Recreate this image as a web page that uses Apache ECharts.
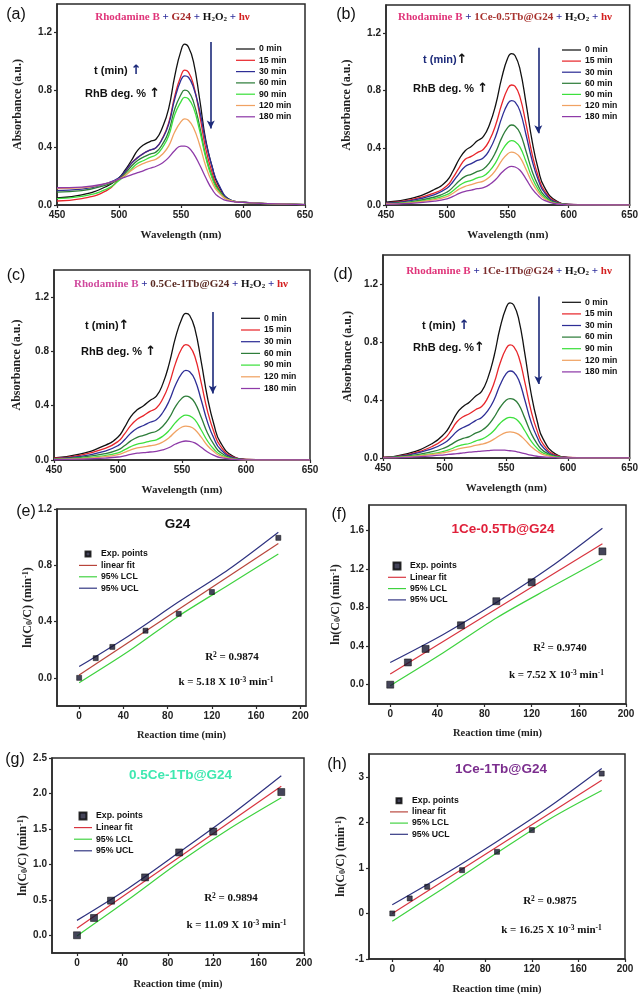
<!DOCTYPE html>
<html><head><meta charset="utf-8">
<script src="https://cdn.jsdelivr.net/npm/echarts@6/dist/echarts.min.js"></script>
<style>html,body{margin:0;padding:0;background:#fff}#c{width:641px;height:1000px}</style>
</head><body><div id="c"></div>
<script>
// ---------- data ----------
const wavelengths = [450,470,490,500,505,510,515,520,525,530,535,540,545,550,553,556,560,565,570,575,580,590,600,620,650];
const timeLabels = ['0 min','15 min','30 min','60 min','90 min','120 min','180 min'];
const curveColors = ['#111111','#e8262b','#2e2e96','#2e7d3a','#3de03d','#f0a262','#8e3aa8'];

const absA = [
 [0.05,0.07,0.13,0.19,0.244,0.31,0.38,0.42,0.442,0.46,0.54,0.67,0.90,1.075,1.12,1.10,1.00,0.74,0.45,0.27,0.14,0.035,0.02,0.01,0.003],
 [0.028,0.045,0.10,0.18,0.23,0.29,0.33,0.36,0.382,0.40,0.465,0.57,0.76,0.90,0.94,0.925,0.84,0.63,0.39,0.23,0.12,0.03,0.018,0.01,0.003],
 [0.10,0.11,0.15,0.19,0.235,0.29,0.33,0.36,0.382,0.40,0.461,0.56,0.74,0.87,0.90,0.89,0.82,0.66,0.44,0.27,0.15,0.035,0.02,0.01,0.003],
 [0.09,0.10,0.14,0.18,0.22,0.27,0.31,0.335,0.354,0.37,0.423,0.51,0.67,0.77,0.80,0.79,0.72,0.55,0.34,0.20,0.11,0.03,0.018,0.01,0.003],
 [0.045,0.06,0.11,0.17,0.206,0.25,0.29,0.31,0.332,0.35,0.40,0.48,0.63,0.72,0.75,0.74,0.68,0.52,0.33,0.19,0.10,0.03,0.018,0.01,0.003],
 [0.115,0.12,0.15,0.18,0.207,0.24,0.27,0.29,0.306,0.32,0.354,0.41,0.51,0.58,0.60,0.59,0.54,0.42,0.27,0.16,0.09,0.03,0.018,0.01,0.003],
 [0.12,0.125,0.15,0.18,0.194,0.21,0.225,0.24,0.256,0.27,0.293,0.33,0.38,0.41,0.41,0.40,0.36,0.28,0.19,0.11,0.06,0.025,0.018,0.01,0.003]
];
const absB = [
 [0.02,0.045,0.11,0.17,0.238,0.32,0.38,0.41,0.449,0.48,0.564,0.70,0.89,1.03,1.06,1.045,0.95,0.71,0.445,0.25,0.125,0.027,0.005,0.001,0],
 [0.015,0.036,0.085,0.135,0.191,0.26,0.32,0.34,0.367,0.39,0.455,0.56,0.705,0.815,0.84,0.83,0.755,0.565,0.355,0.20,0.10,0.022,0.004,0.001,0],
 [0.013,0.03,0.073,0.117,0.163,0.22,0.27,0.29,0.312,0.33,0.387,0.48,0.61,0.71,0.73,0.72,0.657,0.49,0.31,0.175,0.088,0.018,0.004,0.001,0],
 [0.01,0.022,0.056,0.09,0.125,0.168,0.2,0.215,0.235,0.252,0.297,0.37,0.47,0.543,0.56,0.552,0.504,0.375,0.235,0.134,0.067,0.014,0.003,0.001,0],
 [0.008,0.018,0.045,0.072,0.10,0.135,0.16,0.173,0.19,0.203,0.239,0.297,0.378,0.437,0.45,0.443,0.405,0.302,0.189,0.108,0.054,0.011,0.002,0.001,0],
 [0.007,0.015,0.037,0.059,0.082,0.111,0.131,0.142,0.156,0.167,0.196,0.244,0.311,0.359,0.37,0.364,0.333,0.248,0.155,0.089,0.044,0.009,0.002,0.001,0],
 [0.005,0.011,0.027,0.043,0.06,0.081,0.096,0.104,0.114,0.122,0.143,0.178,0.227,0.262,0.27,0.266,0.243,0.181,0.113,0.065,0.032,0.007,0.001,0,0]
];
const absC = [
 [0.016,0.043,0.108,0.17,0.238,0.32,0.37,0.40,0.439,0.47,0.561,0.71,0.905,1.045,1.08,1.065,0.97,0.725,0.455,0.26,0.13,0.027,0.005,0.001,0],
 [0.013,0.034,0.085,0.136,0.19,0.255,0.30,0.327,0.358,0.383,0.451,0.561,0.714,0.825,0.85,0.837,0.765,0.57,0.357,0.204,0.102,0.021,0.004,0.001,0],
 [0.01,0.026,0.066,0.106,0.147,0.198,0.234,0.254,0.278,0.297,0.35,0.436,0.554,0.64,0.66,0.65,0.594,0.442,0.277,0.158,0.079,0.017,0.003,0.001,0],
 [0.007,0.019,0.047,0.075,0.105,0.141,0.167,0.181,0.198,0.212,0.249,0.31,0.395,0.456,0.47,0.463,0.423,0.315,0.197,0.113,0.056,0.012,0.002,0,0],
 [0.005,0.013,0.033,0.053,0.074,0.099,0.117,0.127,0.139,0.149,0.175,0.218,0.277,0.32,0.33,0.325,0.297,0.221,0.139,0.079,0.04,0.008,0.002,0,0],
 [0.004,0.01,0.025,0.04,0.056,0.075,0.089,0.096,0.105,0.113,0.133,0.165,0.21,0.243,0.25,0.246,0.225,0.168,0.105,0.06,0.03,0.006,0.001,0,0],
 [0.002,0.006,0.014,0.022,0.031,0.042,0.05,0.054,0.059,0.063,0.074,0.092,0.118,0.136,0.14,0.138,0.126,0.094,0.059,0.034,0.017,0.004,0.001,0,0]
];
const absD = [
 [0.005,0.03,0.10,0.17,0.233,0.31,0.355,0.385,0.426,0.46,0.551,0.70,0.90,1.04,1.07,1.055,0.96,0.72,0.45,0.255,0.128,0.027,0.005,0.001,0],
 [0.004,0.024,0.08,0.135,0.187,0.25,0.285,0.305,0.333,0.355,0.416,0.515,0.655,0.757,0.78,0.768,0.70,0.523,0.328,0.187,0.094,0.02,0.004,0.001,0],
 [0.003,0.02,0.065,0.105,0.141,0.185,0.21,0.23,0.258,0.28,0.326,0.40,0.505,0.583,0.60,0.591,0.54,0.40,0.25,0.143,0.072,0.015,0.003,0,0],
 [0.002,0.014,0.044,0.07,0.092,0.118,0.135,0.148,0.171,0.19,0.224,0.28,0.35,0.40,0.41,0.404,0.37,0.275,0.172,0.098,0.049,0.01,0.002,0,0],
 [0.002,0.01,0.03,0.048,0.062,0.08,0.092,0.10,0.117,0.13,0.153,0.19,0.24,0.273,0.28,0.276,0.252,0.188,0.118,0.067,0.034,0.007,0.001,0,0],
 [0.002,0.008,0.025,0.038,0.048,0.06,0.07,0.077,0.087,0.095,0.108,0.13,0.157,0.176,0.18,0.177,0.163,0.125,0.08,0.046,0.024,0.005,0.001,0,0],
 [0.001,0.005,0.015,0.022,0.026,0.03,0.035,0.04,0.044,0.048,0.051,0.055,0.055,0.053,0.05,0.047,0.04,0.03,0.02,0.012,0.007,0.002,0,0,0]
];
// down arrows: [wavelength, from, to]
const arrowA = [574,1.136,0.533];
const arrowB = [575,1.10,0.503];
const arrowC = [574,1.09,0.49];
const arrowD = [576,1.113,0.51];

const reactionTimes = [0,15,30,60,90,120,180];
const lnE = [0.0,0.14,0.22,0.335,0.455,0.61,0.995];
const lnF = [0.0,0.23,0.37,0.615,0.864,1.06,1.38];
const lnG = [0.0,0.244,0.488,0.816,1.168,1.463,2.02];
const lnH = [0.0,0.33,0.585,0.95,1.353,1.83,3.07];
const fitTimes = [0,180];
const fitE = [0.02,0.955];
const fitF = [0.11,1.46];
const fitG = [0.10,2.10];
const fitH = [0.0,2.925];
const bandTimes = [0,45,90,135,180];
const uclE = [0.08,0.30,0.54,0.77,1.035];
const lclE = [-0.035,0.19,0.44,0.66,0.88];
const uclF = [0.23,0.52,0.85,1.21,1.62];
const lclF = [-0.01,0.33,0.69,1.00,1.30];
const uclG = [0.21,0.66,1.17,1.69,2.25];
const lclG = [-0.01,0.50,1.03,1.51,1.94];
const uclH = [0.19,0.86,1.58,2.34,3.18];
const lclH = [-0.17,0.57,1.33,2.07,2.70];
const rSquared = ['0.9874','0.9740','0.9894','0.9875'];
const rateK = ['5.18','7.52','11.09','16.25'];
const fitNames = ['linear fit','Linear fit','Linear fit','linear fit'];

const specXTicks = [450,500,550,600,650];
const specYTicks = [0,0.4,0.8,1.2];
const timeTicks = [0,40,80,120,160,200];
const yTicksE = [0,0.4,0.8,1.2];
const yTicksF = [0,0.4,0.8,1.2,1.6];
const yTicksG = [0,0.5,1.0,1.5,2.0,2.5];
const yTicksH = [-1,0,1,2,3];

// ---------- layout ----------
const grids = [
 {left:57, top:4, width:248, height:201},
 {left:386, top:5, width:244, height:200},
 {left:54, top:270, width:256, height:190},
 {left:383, top:255, width:247, height:203},
 {left:57, top:509, width:249, height:197},
 {left:369, top:505, width:257, height:199},
 {left:52, top:758, width:252, height:195},
 {left:369, top:754, width:256, height:205}
].map(g => Object.assign({show:true, borderColor:'#2a2a2a', borderWidth:1.5, backgroundColor:'transparent'}, g));

const AX = '#2a2a2a';
const tickFont = {fontFamily:'Liberation Sans', fontWeight:'bold', fontSize:10, color:'#222'};
const serifB = {fontFamily:'Liberation Serif', fontWeight:'bold', color:'#222'};

function xAx(i, min, max, ticks, name, gap, size, fmt) {
  return {type:'value', gridIndex:i, min, max, name, nameLocation:'middle', nameGap:gap,
    nameTextStyle:Object.assign({fontSize:size}, serifB),
    axisLine:{show:true, onZero:false, lineStyle:{color:AX, width:1.5}},
    axisTick:{show:true, inside:false, length:3, customValues:ticks, lineStyle:{color:AX, width:1.2}},
    axisLabel:Object.assign({customValues:ticks, margin:5, formatter:fmt}, tickFont),
    splitLine:{show:false}};
}
function yAx(i, min, max, ticks, name, gap, rich, fmt) {
  return {type:'value', gridIndex:i, min, max, name, nameLocation:'middle', nameGap:gap,
    nameTextStyle:Object.assign({fontSize:12, rich}, serifB),
    axisLine:{show:true, onZero:false, lineStyle:{color:AX, width:1.5}},
    axisTick:{show:true, inside:false, length:3, customValues:ticks, lineStyle:{color:AX, width:1.2}},
    axisLabel:Object.assign({customValues:ticks, margin:5, formatter:fmt}, tickFont),
    splitLine:{show:false}};
}
const f1 = v => v.toFixed(1);
const f0 = v => String(Math.round(v));
const fi = v => String(v);
const lnRich = {
  n:Object.assign({fontSize:12}, serifB),
  s:Object.assign({fontSize:8, verticalAlign:'bottom', lineHeight:8}, serifB),
  p:Object.assign({fontSize:8, verticalAlign:'top', lineHeight:8}, serifB)
};
const lnName = '{n|ln(C}{s|0}{n|/C) (min}{p|-1}{n|)}';

const xAxes = [
 xAx(0,450,650,specXTicks,'Wavelength (nm)',25,11,fi),
 xAx(1,450,650,specXTicks,'Wavelength (nm)',25,11,fi),
 xAx(2,450,650,specXTicks,'Wavelength (nm)',25,11,fi),
 xAx(3,450,650,specXTicks,'Wavelength (nm)',25,11,fi),
 xAx(4,-20,205,timeTicks,'Reaction time (min)',24,10.5,fi),
 xAx(5,-18,200,timeTicks,'Reaction time (min)',24,10.5,fi),
 xAx(6,-22,200,timeTicks,'Reaction time (min)',26,10.5,fi),
 xAx(7,-20,200,timeTicks,'Reaction time (min)',25,10.5,fi)
];
const yAxes = [
 yAx(0,0,1.4,specYTicks,'Absorbance (a.u.)',33,undefined,f1),
 yAx(1,0,1.4,specYTicks,'Absorbance (a.u.)',33,undefined,f1),
 yAx(2,0,1.4,specYTicks,'Absorbance (a.u.)',31,undefined,f1),
 yAx(3,0,1.4,specYTicks,'Absorbance (a.u.)',29,undefined,f1),
 yAx(4,-0.2,1.2,yTicksE,lnName,23,lnRich,f1),
 yAx(5,-0.2,1.86,yTicksF,lnName,27,lnRich,f1),
 yAx(6,-0.25,2.5,yTicksG,lnName,20,lnRich,f1),
 yAx(7,-1,3.5,yTicksH,lnName,22,lnRich,f0)
];

// ---------- series ----------
const series = [];
const spectra = [absA, absB, absC, absD];
const arrows = [arrowA, arrowB, arrowC, arrowD];
spectra.forEach((panel, p) => {
  panel.forEach((vals, i) => {
    const s = {type:'line', name:timeLabels[i], xAxisIndex:p, yAxisIndex:p,
      data:wavelengths.map((w,k) => [w, vals[k]]),
      smooth:0.5, symbol:'none', showSymbol:false, silent:true,
      lineStyle:{width:1.3, color:curveColors[i]}, itemStyle:{color:curveColors[i]}};
    if (i === 0) {
      const a = arrows[p];
      s.markLine = {silent:true, symbol:['none','arrow'], symbolSize:[6,8], animation:false,
        lineStyle:{color:'#1c2a7a', width:1.6, type:'solid'}, label:{show:false},
        data:[[{coord:[a[0], a[1]]}, {coord:[a[0], a[2]]}]]};
    }
    series.push(s);
  });
});

const kin = [
 {ln:lnE, fit:fitE, ucl:uclE, lcl:lclE, size:5, fitColor:'#b8443a'},
 {ln:lnF, fit:fitF, ucl:uclF, lcl:lclF, size:7, fitColor:'#d8343f'},
 {ln:lnG, fit:fitG, ucl:uclG, lcl:lclG, size:7, fitColor:'#d8343f'},
 {ln:lnH, fit:fitH, ucl:uclH, lcl:lclH, size:5, fitColor:'#d8343f'}
];
kin.forEach((k, j) => {
  const p = j + 4;
  series.push({type:'line', name:fitNames[j], xAxisIndex:p, yAxisIndex:p, symbol:'none', showSymbol:false, silent:true,
    data:fitTimes.map((t,i) => [t, k.fit[i]]), lineStyle:{width:1.2, color:k.fitColor}, itemStyle:{color:k.fitColor}});
  series.push({type:'line', name:'95% LCL', xAxisIndex:p, yAxisIndex:p, symbol:'none', showSymbol:false, silent:true, smooth:0.3,
    data:bandTimes.map((t,i) => [t, k.lcl[i]]), lineStyle:{width:1.2, color:'#3fd23f'}, itemStyle:{color:'#3fd23f'}});
  series.push({type:'line', name:'95% UCL', xAxisIndex:p, yAxisIndex:p, symbol:'none', showSymbol:false, silent:true, smooth:0.3,
    data:bandTimes.map((t,i) => [t, k.ucl[i]]), lineStyle:{width:1.2, color:'#2f3380'}, itemStyle:{color:'#2f3380'}});
  series.push({type:'scatter', name:'Exp. points', xAxisIndex:p, yAxisIndex:p, symbol:'rect', symbolSize:k.size, z:5, silent:true,
    data:reactionTimes.map((t,i) => [t, k.ln[i]]), itemStyle:{color:'#151530', borderColor:'#000', borderWidth:0.6}});
});

// ---------- legends ----------
const legText = {fontFamily:'Liberation Sans', fontWeight:'bold', fontSize:8.7, color:'#111', padding:[0,0,0,-1]};
const lineIcon = 'path://M0,0h20v1.3h-20z';
function specLeg(left, top, gap) {
  return {orient:'vertical', left, top, itemWidth:19, itemHeight:9, itemGap:gap, padding:0,
    selectedMode:false, data:timeLabels.map(n => ({name:n, icon:lineIcon})), textStyle:legText};
}
function kinLeg(left, top, gap, sq, fitName) {
  return {orient:'vertical', left, top, itemWidth:18, itemHeight:sq, itemGap:gap, padding:0,
    selectedMode:false, textStyle:legText,
    data:[{name:'Exp. points', icon:'path://M0,0h10v10h-10z'}, {name:fitName, icon:lineIcon},
          {name:'95% LCL', icon:lineIcon}, {name:'95% UCL', icon:lineIcon}]};
}
const legends = [
  specLeg(236, 44.5, 2.3), specLeg(562, 45.5, 2.1), specLeg(241, 313.8, 2.7), specLeg(562, 297.8, 2.6),
  kinLeg(79, 549.5, 2.4, 5, fitNames[0]), kinLeg(388, 561.5, 2.3, 7, fitNames[1]),
  kinLeg(74, 811.5, 2.6, 7, fitNames[2]), kinLeg(390, 796.2, 2.2, 5, fitNames[3])
];

// ---------- text annotations ----------
const SB = 'bold 11px "Liberation Serif"';
const SBs = 'bold 7px "Liberation Serif"';
function T(x, y, text, font, fill, align, rich) {
  return {type:'text', x, y, silent:true, z:100,
    style:{text, font, fill:fill||'#111', align:align||'center', verticalAlign:'middle',
      textAlign:align||'center', textVerticalAlign:'middle', rich}};
}
function titleRich(pink, mat) {
  return {
    rb:{font:SB, fill:pink}, pl:{font:SB, fill:'#2a2a9a'}, m:{font:SB, fill:mat},
    k:{font:SB, fill:'#111'}, ks:{font:SBs, fill:'#111', verticalAlign:'bottom', lineHeight:6},
    hv:{font:SB, fill:'#d42020'}
  };
}
function titleText(mat) {
  return '{rb|Rhodamine B}{pl| + }{m|' + mat + '}{pl| + }{k|H}{ks|2}{k|O}{ks|2}{pl| + }{hv|hν}';
}
const SA = 'bold 11px "Liberation Sans"';
function annRich(tc, ac) {
  return {t:{font:SA, fill:tc}, a:{font:'bold 13px "DejaVu Sans"', fill:ac}};
}
const RB = 'bold 11px "Liberation Serif"';
const RBs = 'bold 7.5px "Liberation Serif"';
const kRich = {b:{font:RB, fill:'#111'}, p:{font:RBs, fill:'#111', verticalAlign:'top', lineHeight:6}};
const KT = 'bold 13.5px "Liberation Sans"';
const PL = '16px "Liberation Sans"';

const texts = [
  T(16,15,'(a)',PL), T(346,15,'(b)',PL), T(16,276,'(c)',PL), T(343,275,'(d)',PL),
  T(26,512,'(e)',PL), T(339,515,'(f)',PL), T(15,760,'(g)',PL), T(337,765,'(h)',PL),
  T(172.5,17.5,titleText('G24'),SB,'#111','center',titleRich('#e0357a','#a52828')),
  T(505,17,titleText('1Ce-0.5Tb@G24'),SB,'#111','center',titleRich('#e0357a','#a8322e')),
  T(181,284.5,titleText('0.5Ce-1Tb@G24'),SB,'#111','center',titleRich('#d04a9e','#5a2a22')),
  T(509,271,titleText('1Ce-1Tb@G24'),SB,'#111','center',titleRich('#e0357a','#7a2a2a')),
  T(94,71,'{t|t (min)} {a|↑}',SA,'#111','left',annRich('#111','#1c2a7a')),
  T(85,94,'{t|RhB deg. %} {a|↑}',SA,'#111','left',annRich('#111','#111')),
  T(423,60,'{t|t (min)}{a|↑}',SA,'#111','left',annRich('#1c2a7a','#111')),
  T(413,88.5,'{t|RhB deg. %} {a|↑}',SA,'#111','left',annRich('#111','#111')),
  T(85,326,'{t|t (min)}{a|↑}',SA,'#111','left',annRich('#111','#111')),
  T(81,351.5,'{t|RhB deg. %} {a|↑}',SA,'#111','left',annRich('#111','#111')),
  T(422,325.5,'{t|t (min)} {a|↑}',SA,'#111','left',annRich('#111','#1c2a7a')),
  T(413,347.5,'{t|RhB deg. %}{a|↑}',SA,'#111','left',annRich('#111','#111')),
  T(177.5,524,'G24',KT,'#111'),
  T(503,529.5,'1Ce-0.5Tb@G24',KT,'#e0203a'),
  T(180.5,775,'0.5Ce-1Tb@G24',KT,'#3ee8b0'),
  T(501,769,'1Ce-1Tb@G24',KT,'#7b2d8e'),
  T(232,657,'{b|R}{p|2}{b| = ' + rSquared[0] + '}',RB,'#111','center',kRich),
  T(560,648,'{b|R}{p|2}{b| = ' + rSquared[1] + '}',RB,'#111','center',kRich),
  T(231,898,'{b|R}{p|2}{b| = ' + rSquared[2] + '}',RB,'#111','center',kRich),
  T(550,901,'{b|R}{p|2}{b| = ' + rSquared[3] + '}',RB,'#111','center',kRich),
  T(226,682,'{b|k = ' + rateK[0] + ' X 10}{p|-3}{b| min}{p|-1}',RB,'#111','center',kRich),
  T(556.5,675,'{b|k = ' + rateK[1] + ' X 10}{p|-3}{b| min}{p|-1}',RB,'#111','center',kRich),
  T(236.5,925,'{b|k = ' + rateK[2] + ' X 10}{p|-3}{b| min}{p|-1}',RB,'#111','center',kRich),
  T(551.5,930,'{b|k = ' + rateK[3] + ' X 10}{p|-3}{b| min}{p|-1}',RB,'#111','center',kRich)
];

const chart = echarts.init(document.getElementById('c'), null, {renderer:'canvas'});
chart.setOption({
  animation:false,
  backgroundColor:'#ffffff',
  grid:grids, xAxis:xAxes, yAxis:yAxes, legend:legends, series, graphic:texts
});
</script></body></html>
